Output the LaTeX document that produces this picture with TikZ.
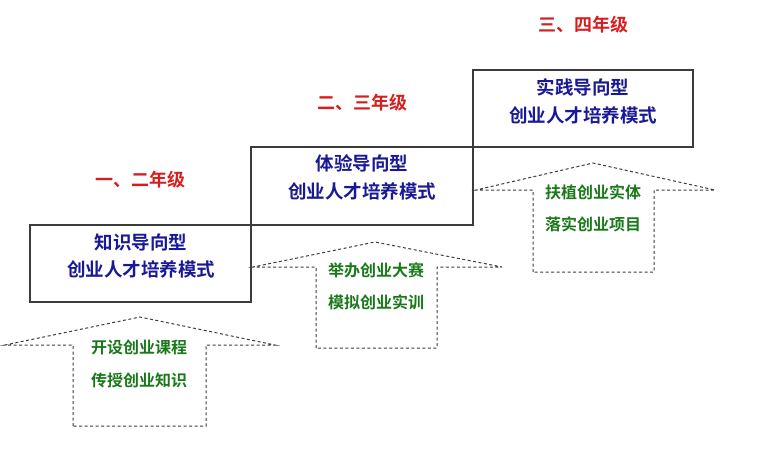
\documentclass[tikz,border=0pt]{standalone}
\usepackage{fontspec}
\newfontfamily\cjk{Noto Sans CJK SC}[BoldFont={Noto Sans CJK SC Bold}]
\definecolor{tblue}{RGB}{25,25,150}
\definecolor{tred}{RGB}{215,30,30}
\definecolor{tgreen}{RGB}{25,120,25}
\definecolor{lgray}{RGB}{60,60,60}
\begin{document}
\begin{tikzpicture}[x=1pt,y=-1pt,
  stage/.style={draw=lgray,line width=1.3pt},
  arrowshape/.style={draw=lgray,dash pattern=on 3pt off 2.5pt,line width=1pt},
  bluetxt/.style={font=\cjk\bfseries\fontsize{18.5}{22}\selectfont,text=tblue,inner sep=0},
  redtxt/.style={font=\cjk\bfseries\fontsize{18}{21}\selectfont,text=tred,inner sep=0},
  greentxt/.style={font=\cjk\bfseries\fontsize{16}{19}\selectfont,text=tgreen,inner sep=0}]
\useasboundingbox (0,0) rectangle (763,467);
% staircase boxes
\draw[stage] (30,225) rectangle (251,302);
\draw[stage] (251,147) rectangle (473,225);
\draw[stage] (473,70) rectangle (693,147);
% arrows
\draw[arrowshape] (73,426) -- (73,345) -- (5,345) -- (140,317) -- (275,345) -- (206,345) -- (206,426) -- cycle;
\draw[arrowshape] (316,348) -- (316,267) -- (253,267) -- (375,242) -- (502,267) -- (437,267) -- (437,348) -- cycle;
\draw[arrowshape] (533,272) -- (533,190) -- (476,190) -- (593,163) -- (715,190) -- (654,190) -- (654,272) -- cycle;
% box texts
\node[bluetxt] (b1a) at (141,242) {知识导向型};
\node[bluetxt] (b1b) at (141,269) {创业人才培养模式};
\node[bluetxt] (b2a) at (362,163) {体验导向型};
\node[bluetxt] (b2b) at (362,191) {创业人才培养模式};
\node[bluetxt] (b3a) at (583,87) {实践导向型};
\node[bluetxt] (b3b) at (583,115) {创业人才培养模式};
% grade labels
\node[redtxt] (g1) at (140,180) {一、二年级};
\node[redtxt] (g2) at (362,103) {二、三年级};
\node[redtxt] (g3) at (583,25) {三、四年级};
% arrow texts
\node[greentxt] (a1a) at (139,347) {开设创业课程};
\node[greentxt] (a1b) at (139,380) {传授创业知识};
\node[greentxt] (a2a) at (376,270) {举办创业大赛};
\node[greentxt] (a2b) at (376,302) {模拟创业实训};
\node[greentxt] (a3a) at (593,192) {扶植创业实体};
\node[greentxt] (a3b) at (593,224) {落实创业项目};
\end{tikzpicture}
\end{document}
